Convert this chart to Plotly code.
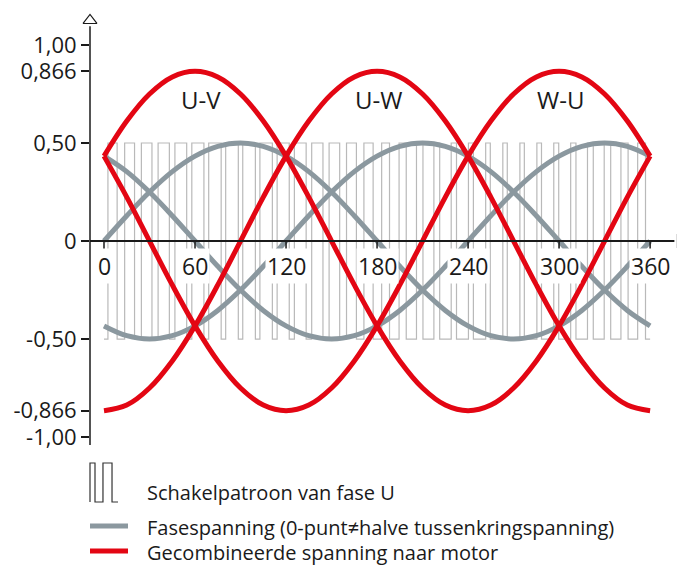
import plotly.graph_objects as go

# angle grid (degrees) for the smooth curves
angles = [0, 15, 30, 45, 60, 75, 90, 105, 120, 135, 150, 165, 180,
          195, 210, 225, 240, 255, 270, 285, 300, 315, 330, 345, 360]

# phase voltages (grey)
phase_u = [0, 0.129, 0.25, 0.354, 0.433, 0.483, 0.5, 0.483, 0.433, 0.354, 0.25, 0.129, 0,
           -0.129, -0.25, -0.354, -0.433, -0.483, -0.5, -0.483, -0.433, -0.354, -0.25, -0.129, 0]
phase_v = [-0.433, -0.483, -0.5, -0.483, -0.433, -0.354, -0.25, -0.129, 0, 0.129, 0.25, 0.354, 0.433,
           0.483, 0.5, 0.483, 0.433, 0.354, 0.25, 0.129, 0, -0.129, -0.25, -0.354, -0.433]
phase_w = [0.433, 0.354, 0.25, 0.129, 0, -0.129, -0.25, -0.354, -0.433, -0.483, -0.5, -0.483, -0.433,
           -0.354, -0.25, -0.129, 0, 0.129, 0.25, 0.354, 0.433, 0.483, 0.5, 0.483, 0.433]

# combined (line-to-line) voltages (red)
line_uv = [0.433, 0.612, 0.75, 0.837, 0.866, 0.837, 0.75, 0.612, 0.433, 0.224, 0, -0.224, -0.433,
           -0.612, -0.75, -0.837, -0.866, -0.837, -0.75, -0.612, -0.433, -0.224, 0, 0.224, 0.433]
line_uw = [-0.866, -0.837, -0.75, -0.612, -0.433, -0.224, 0, 0.224, 0.433, 0.612, 0.75, 0.837, 0.866,
           0.837, 0.75, 0.612, 0.433, 0.224, 0, -0.224, -0.433, -0.612, -0.75, -0.837, -0.866]
line_wu = [0.433, 0.224, 0, -0.224, -0.433, -0.612, -0.75, -0.837, -0.866, -0.837, -0.75, -0.612, -0.433,
           -0.224, 0, 0.224, 0.433, 0.612, 0.75, 0.837, 0.866, 0.837, 0.75, 0.612, 0.433]
curve_labels = ["U-V", "U-W", "W-U"]
curve_label_x = [64, 181, 301]
curve_label_y = 0.72

# switching pattern of phase U: duty (fraction high) per carrier period
pwm_period = 11.25
pwm_duty = [0.54, 0.58, 0.62, 0.66, 0.69, 0.71, 0.73, 0.74, 0.74, 0.73, 0.71, 0.69, 0.66, 0.62, 0.58, 0.54,
            0.46, 0.42, 0.38, 0.34, 0.31, 0.29, 0.27, 0.26, 0.26, 0.27, 0.29, 0.31, 0.34, 0.38, 0.42, 0.46]
pwm_level = 0.5

x_ticks = [0, 60, 120, 180, 240, 300, 360]
y_ticks = [1.0, 0.866, 0.5, 0, -0.5, -0.866, -1.0]
y_ticktext = ["1,00", "0,866", "0,50", "0", "-0,50", "-0,866", "-1,00"]

legend_text = ["Schakelpatroon van fase U",
               "Fasespanning (0-punt\u2260halve tussenkringspanning)",
               "Gecombineerde spanning naar motor"]

GREY = "#8b989f"
RED = "#e30613"
PWM_GREY = "#b9b9b9"
INK = "#1a1a1a"
FONT = "Open Sans"

# the page body adds an 8px margin around the figure, so size the figure to fit
OFF = 8
W, H = 685 - OFF, 568 - OFF
ML, MR, MT, MB = 90 - OFF, 0, 15 - OFF, 118
X_RANGE = [-9.23, 383]
Y_RANGE = [-1.066, 1.153]


def px(xp):
    # screen pixel x -> paper fraction
    return (xp - OFF - ML) / (W - ML - MR)


def py(yp):
    # screen pixel y -> paper fraction
    return (H - MB - (yp - OFF)) / (H - MT - MB)


# build square wave
pwm_x, pwm_y = [0], [-pwm_level]
for k, d in enumerate(pwm_duty):
    start = k * pwm_period
    rise = start + (1 - d) / 2 * pwm_period
    fall = start + (1 + d) / 2 * pwm_period
    pwm_x += [rise, rise, fall, fall]
    pwm_y += [-pwm_level, pwm_level, pwm_level, -pwm_level]
pwm_x.append(360)
pwm_y.append(-pwm_level)

fig = go.Figure()
fig.add_trace(go.Scatter(x=pwm_x, y=pwm_y, mode="lines",
                         line=dict(color=PWM_GREY, width=1.2), hoverinfo="skip"))
for ys in (phase_u, phase_v, phase_w):
    fig.add_trace(go.Scatter(x=angles, y=ys, mode="lines", line_shape="spline",
                             line=dict(color=GREY, width=5)))
for ys in (line_uv, line_uw, line_wu):
    fig.add_trace(go.Scatter(x=angles, y=ys, mode="lines", line_shape="spline",
                             line=dict(color=RED, width=5)))

# x axis ticks below zero line
tx, ty = [], []
for t in x_ticks:
    tx += [t, t, None]
    ty += [0, -0.042, None]
fig.add_trace(go.Scatter(x=tx, y=ty, mode="lines", line=dict(color=INK, width=1.5),
                         hoverinfo="skip"))

# axis arrows
fig.add_trace(go.Scatter(x=[X_RANGE[0]], y=[1.125], mode="markers", cliponaxis=False,
                         marker=dict(symbol="triangle-up-open", size=12, color=INK,
                                     line=dict(width=1.2, color=INK))))
fig.add_trace(go.Scatter(x=[380], y=[0], mode="markers", cliponaxis=False,
                         marker=dict(symbol="triangle-right-open", size=12, color=INK,
                                     line=dict(width=1.2, color=INK))))

shapes = [
    dict(type="line", xref="paper", yref="y", x0=0, x1=0, y0=-1.04, y1=1.095,
         line=dict(color=INK, width=1.5)),
    dict(type="line", xref="x", yref="y", x0=X_RANGE[0], x1=376, y0=0, y1=0,
         line=dict(color=INK, width=2)),
]

# legend: switching pattern icon
icon = [(90, 502), (90, 463), (95, 463), (95, 502), (103, 502), (103, 463),
        (112, 463), (112, 502), (118, 502)]
path = "M " + " L ".join(f"{px(a):.4f},{py(b):.4f}" for a, b in icon)
shapes.append(dict(type="path", xref="paper", yref="paper", path=path,
                   line=dict(color="#333333", width=1.2)))
shapes.append(dict(type="line", xref="paper", yref="paper", x0=px(90), x1=px(128),
                   y0=py(526), y1=py(526), line=dict(color=GREY, width=5)))
shapes.append(dict(type="line", xref="paper", yref="paper", x0=px(90), x1=px(128),
                   y0=py(551), y1=py(551), line=dict(color=RED, width=5)))

annotations = []
for t in x_ticks:
    annotations.append(dict(x=t, y=0, xref="x", yref="y", text=str(t), showarrow=False,
                            yshift=-25, bgcolor="white", borderpad=1,
                            font=dict(size=23, color=INK, family=FONT)))
for lab, lx in zip(curve_labels, curve_label_x):
    annotations.append(dict(x=lx, y=curve_label_y, xref="x", yref="y", text=lab,
                            showarrow=False, font=dict(size=24, color=INK, family=FONT)))
for txt, yp in zip(legend_text, [493, 527, 552]):
    annotations.append(dict(x=px(145), y=py(yp), xref="paper", yref="paper", text=txt,
                            showarrow=False, xanchor="left", yanchor="middle",
                            font=dict(size=20, color=INK, family=FONT)))

fig.update_layout(
    width=W, height=H,
    margin=dict(l=ML, r=MR, t=MT, b=MB, autoexpand=False),
    paper_bgcolor="white", plot_bgcolor="white",
    showlegend=False,
    shapes=shapes,
    annotations=annotations,
    font=dict(family=FONT, color=INK),
    xaxis=dict(range=X_RANGE, showgrid=False, zeroline=False, showline=False,
               showticklabels=False, ticks=""),
    yaxis=dict(range=Y_RANGE, showgrid=False, zeroline=False, showline=False,
               tickvals=y_ticks, ticktext=y_ticktext, ticks="outside", ticklen=8,
               tickwidth=1.5, tickcolor=INK, ticklabelstandoff=0,
               tickfont=dict(size=22, color=INK, family=FONT)),
)

fig.write_html("out.html")
